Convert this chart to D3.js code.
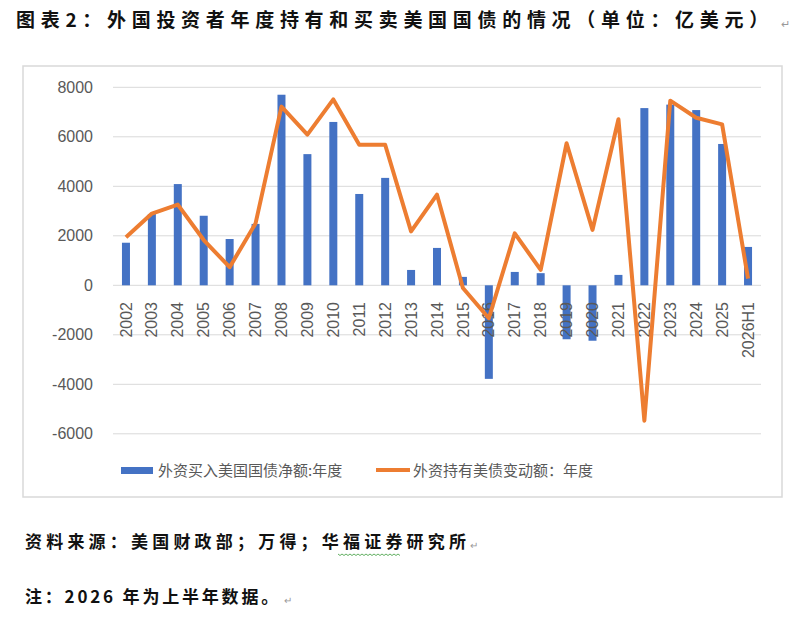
<!DOCTYPE html>
<html>
<head>
<meta charset="utf-8">
<script src="https://cdn.jsdelivr.net/npm/d3@7"></script>
<style>
  body { margin: 0; background: #fff; }
  svg text { font-family: "Liberation Sans", Arial, sans-serif; }
  .cjk { font-family: "Noto Sans CJK SC", sans-serif; }
</style>
</head>
<body>
<svg id="chart" width="789" height="620"></svg>
<script>
// data (unit: 亿美元)
const years = ["2002","2003","2004","2005","2006","2007","2008","2009","2010","2011","2012","2013",
  "2014","2015","2016","2017","2018","2019","2020","2021","2022","2023","2024","2025","2026H1"];
const netBuy = [1720, 2880, 4090, 2810, 1870, 2480, 7700, 5300, 6600, 3690, 4340, 620,
  1510, 340, -3780, 540, 490, -2180, -2240, 420, 7160, 7300, 7080, 5710, 1550];
const holdChange = [1940, 2900, 3260, 1830, 730, 2500, 7220, 6090, 7510, 5680, 5680, 2180,
  3660, -110, -1330, 2100, 620, 5740, 2240, 6710, -5470, 7460, 6770, 6500, 270];
const yTicks = [-6000, -4000, -2000, 0, 2000, 4000, 6000, 8000];

const svg = d3.select("#chart");

// title
svg.append("text").attr("class", "cjk")
  .attr("x", 16).attr("y", 27)
  .attr("font-size", 19).attr("font-weight", "bold")
  .attr("letter-spacing", 5.7)
  .attr("fill", "#111")
  .text("图表2：外国投资者年度持有和买卖美国国债的情况（单位：亿美元）");
svg.append("text").attr("x", 781).attr("y", 28).attr("font-size", 11).attr("fill", "#999").text("↵");

// chart frame
svg.append("rect").attr("x", 23).attr("y", 66).attr("width", 759).attr("height", 431)
  .attr("fill", "none").attr("stroke", "#d9d9d9").attr("stroke-width", 1.5);

let x = d3.scaleBand().domain(years).range([113, 761]);
let y = d3.scaleLinear().domain([-6000, 8000]).range([433.8, 87.3]);

// gridlines
svg.append("g").selectAll("line").data(yTicks).enter().append("line")
  .attr("x1", 113).attr("x2", 761)
  .attr("y1", d => y(d)).attr("y2", d => y(d))
  .attr("stroke", "#d9d9d9").attr("stroke-width", 1);

// y axis labels (plain numbers, hyphen minus like the original)
let yAxis = d3.axisLeft(y).tickValues(yTicks).tickSize(0).tickPadding(0)
  .tickFormat(d => String(d));
let gy = svg.append("g").attr("transform", "translate(93,0)").call(yAxis);
gy.select(".domain").remove();
gy.selectAll("text").attr("font-size", 16).attr("fill", "#595959")
  .attr("font-family", "Liberation Sans, Arial, sans-serif");

// bars
let barW = 8;
svg.append("g").selectAll("rect").data(netBuy).enter().append("rect")
  .attr("x", (d, i) => x(years[i]) + x.bandwidth() / 2 - barW / 2)
  .attr("width", barW)
  .attr("y", d => y(Math.max(0, d)))
  .attr("height", d => Math.abs(y(d) - y(0)))
  .attr("fill", "#4472C4");

// x axis labels (rotated)
let xAxis = d3.axisBottom(x).tickSize(0).tickPadding(0);
let gx = svg.append("g").attr("transform", "translate(0,302)").call(xAxis);
gx.select(".domain").remove();
gx.selectAll("text")
  .attr("font-size", 16).attr("fill", "#595959")
  .attr("font-family", "Liberation Sans, Arial, sans-serif")
  .attr("text-anchor", "end")
  .attr("dy", "0.35em")
  .attr("transform", "rotate(-90)")
  .attr("x", 0).attr("y", 0);

// line
let line = d3.line()
  .x((d, i) => x(years[i]) + x.bandwidth() / 2)
  .y(d => y(d));
svg.append("path").datum(holdChange)
  .attr("d", line)
  .attr("fill", "none")
  .attr("stroke", "#ED7D31")
  .attr("stroke-width", 4)
  .attr("stroke-linejoin", "round");

// legend
svg.append("rect").attr("x", 121).attr("y", 467).attr("width", 32).attr("height", 7).attr("fill", "#4472C4");
svg.append("text").attr("class", "cjk").attr("x", 158).attr("y", 476)
  .attr("font-size", 15).attr("fill", "#595959").text("外资买入美国国债净额:年度");
svg.append("line").attr("x1", 376).attr("x2", 410).attr("y1", 470).attr("y2", 470)
  .attr("stroke", "#ED7D31").attr("stroke-width", 4);
svg.append("text").attr("class", "cjk").attr("x", 413).attr("y", 476)
  .attr("font-size", 15).attr("fill", "#595959").text("外资持有美债变动额：年度");

// source and note
svg.append("text").attr("class", "cjk")
  .attr("x", 25).attr("y", 548)
  .attr("font-size", 17).attr("font-weight", "bold").attr("letter-spacing", 4.2)
  .attr("fill", "#111")
  .text("资料来源：美国财政部；万得；华福证券研究所");
svg.append("path")
  .attr("d", d3.range(0, 64, 2).map((v, i) => (i ? "L" : "M") + (338 + v) + "," + (554 + (i % 2 ? 1.5 : 0))).join(""))
  .attr("fill", "none").attr("stroke", "#3a9a3a").attr("stroke-width", 0.8);
svg.append("text").attr("x", 470).attr("y", 549).attr("font-size", 10).attr("fill", "#999").text("↵");

svg.append("text").attr("class", "cjk")
  .attr("x", 25).attr("y", 603)
  .attr("font-size", 17).attr("font-weight", "bold").attr("letter-spacing", 2.8)
  .attr("fill", "#111")
  .text("注：2026 年为上半年数据。");
svg.append("text").attr("x", 284).attr("y", 604).attr("font-size", 10).attr("fill", "#999").text("↵");
</script>
</body>
</html>
